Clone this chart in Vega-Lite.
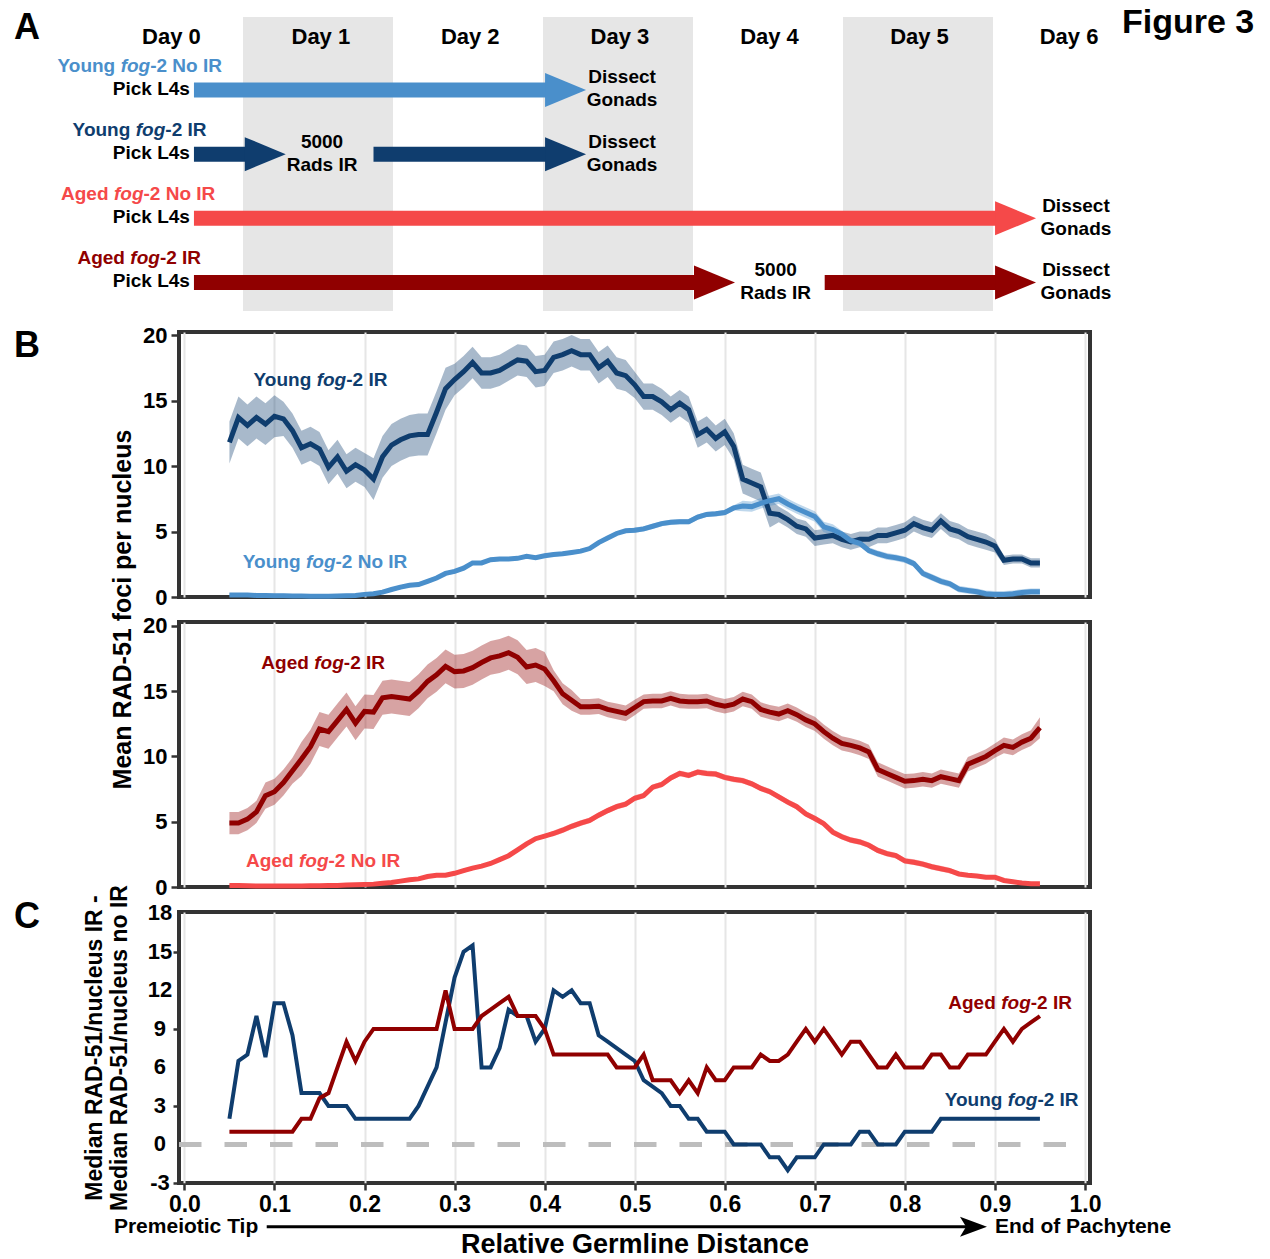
{
"$schema":"https://vega.github.io/schema/vega-lite/v6.json",
"padding":0,
"background":"white",
"spacing":25,
"bounds":"flush",
"config":{"font":"Liberation Sans","view":{"stroke":null},"text":{"fontWeight":"bold"},
"axis":{"labelFontWeight":"bold","titleFontWeight":"bold","labelColor":"#000","titleColor":"#000","tickColor":"#333333","tickWidth":2.5,"domain":false,"gridColor":"#e6e6e6","gridWidth":2,"labelOverlap":false,"labelFlush":false}},
"datasets":{
"aBands":[{"x":1,"x2":2,"y":-0.137,"y2":4.444},{"x":3,"x2":4,"y":-0.137,"y2":4.444},{"x":5,"x2":6,"y":-0.137,"y2":4.444}],
"aDays":[{"t":"Day 0","x":0.523,"y":0.179},{"t":"Day 1","x":1.519,"y":0.179},{"t":"Day 2","x":2.515,"y":0.179},{"t":"Day 3","x":3.513,"y":0.179},{"t":"Day 4","x":4.51,"y":0.179},{"t":"Day 5","x":5.51,"y":0.179},{"t":"Day 6","x":6.507,"y":0.179}],
"aBars":[{"c":"YN","y":1,"x":0.673,"x2":3.04},{"c":"YI","y":2,"x":0.673,"x2":1.03},{"c":"YI","y":2,"x":1.87,"x2":3.04},{"c":"AN","y":3,"x":0.673,"x2":6.04},{"c":"AI","y":4,"x":0.673,"x2":4.03},{"c":"AI","y":4,"x":4.878,"x2":6.04}],
"aHeads":[{"c":"YN","y":1,"x":3.287},{"c":"YI","y":2,"x":1.285},{"c":"YI","y":2,"x":3.287},{"c":"AN","y":3,"x":6.287},{"c":"AI","y":4,"x":4.28},{"c":"AI","y":4,"x":6.287}],
"aLabels":[{"c":"YN","y":1,"x":0.3813,"pre":"Young","suf":"-2 No IR"},{"c":"YI","y":2,"x":0.482,"pre":"Young","suf":"-2 IR"},{"c":"AN","y":3,"x":0.3367,"pre":"Aged","suf":"-2 No IR"},{"c":"AI","y":4,"x":0.446,"pre":"Aged","suf":"-2 IR"}],
"aPick":[{"x":0.646,"y":1},{"x":0.646,"y":2},{"x":0.646,"y":3},{"x":0.646,"y":4}],
"aNotes":[{"x":3.527,"y":1,"t":"Dissect\nGonads"},{"x":3.527,"y":2,"t":"Dissect\nGonads"},{"x":1.527,"y":2,"t":"5000\nRads IR"},{"x":6.553,"y":3,"t":"Dissect\nGonads"},{"x":4.551,"y":4,"t":"5000\nRads IR"},{"x":6.553,"y":4,"t":"Dissect\nGonads"}],
"bLab1":[{"c":"YI","x":0.1797,"y":16.56,"pre":"Young","suf":"-2 IR"},{"c":"YN","x":0.1678,"y":2.69,"pre":"Young","suf":"-2 No IR"}],
"bLab2":[{"c":"AI","x":0.177,"y":17.14,"pre":"Aged","suf":"-2 IR"},{"c":"AN","x":0.16,"y":2.01,"pre":"Aged","suf":"-2 No IR"}],
"cLab":[{"c":"AI","x":0.9398,"y":11.04,"pre":"Aged","suf":"-2 IR"},{"c":"YI","x":0.9472,"y":3.46,"pre":"Young","suf":"-2 IR"}],
"cTicks":[{"v":-3,"t":"-3"},{"v":0,"t":"0"},{"v":3,"t":"3"},{"v":6,"t":"6"},{"v":9,"t":"9"},{"v":12,"t":"12"},{"v":15,"t":"15"},{"v":18,"t":"18"}],
"b1":[
{"x":0.05,"c":"YI","m":11.8,"lo":10.2,"hi":13.4},{"x":0.06,"c":"YI","m":13.7,"lo":12.1,"hi":15.3},{"x":0.07,"c":"YI","m":13.1,"lo":11.5,"hi":14.7},{"x":0.08,"c":"YI","m":13.7,"lo":12.1,"hi":15.3},{"x":0.09,"c":"YI","m":13.2,"lo":11.6,"hi":14.8},{"x":0.10,"c":"YI","m":13.8,"lo":12.2,"hi":15.4},{"x":0.11,"c":"YI","m":13.6,"lo":12.3,"hi":14.9},{"x":0.12,"c":"YI","m":12.7,"lo":11.4,"hi":14.0},{"x":0.13,"c":"YI","m":11.4,"lo":10.1,"hi":12.7},{"x":0.14,"c":"YI","m":11.7,"lo":10.4,"hi":13.0},
{"x":0.15,"c":"YI","m":11.3,"lo":10.0,"hi":12.6},{"x":0.16,"c":"YI","m":9.9,"lo":8.6,"hi":11.2},{"x":0.17,"c":"YI","m":10.7,"lo":9.4,"hi":12.0},{"x":0.18,"c":"YI","m":9.6,"lo":8.3,"hi":10.9},{"x":0.19,"c":"YI","m":10.1,"lo":8.8,"hi":11.4},{"x":0.20,"c":"YI","m":9.7,"lo":8.4,"hi":11.0},{"x":0.21,"c":"YI","m":9.0,"lo":7.4,"hi":10.6},{"x":0.22,"c":"YI","m":10.7,"lo":9.1,"hi":12.3},{"x":0.23,"c":"YI","m":11.6,"lo":10.0,"hi":13.2},{"x":0.24,"c":"YI","m":12.0,"lo":10.4,"hi":13.6},
{"x":0.25,"c":"YI","m":12.3,"lo":10.7,"hi":13.9},{"x":0.26,"c":"YI","m":12.4,"lo":10.8,"hi":14.0},{"x":0.27,"c":"YI","m":12.4,"lo":10.8,"hi":14.0},{"x":0.28,"c":"YI","m":14.1,"lo":12.5,"hi":15.7},{"x":0.29,"c":"YI","m":15.9,"lo":14.3,"hi":17.5},{"x":0.30,"c":"YI","m":16.6,"lo":15.4,"hi":17.8},{"x":0.31,"c":"YI","m":17.2,"lo":16.0,"hi":18.4},{"x":0.32,"c":"YI","m":17.9,"lo":16.7,"hi":19.1},{"x":0.33,"c":"YI","m":17.1,"lo":15.9,"hi":18.3},{"x":0.34,"c":"YI","m":17.1,"lo":15.9,"hi":18.3},
{"x":0.35,"c":"YI","m":17.3,"lo":16.1,"hi":18.5},{"x":0.36,"c":"YI","m":17.7,"lo":16.5,"hi":18.9},{"x":0.37,"c":"YI","m":18.1,"lo":16.9,"hi":19.3},{"x":0.38,"c":"YI","m":18.0,"lo":16.8,"hi":19.2},{"x":0.39,"c":"YI","m":17.2,"lo":16.0,"hi":18.4},{"x":0.40,"c":"YI","m":17.3,"lo":16.1,"hi":18.5},{"x":0.41,"c":"YI","m":18.3,"lo":17.1,"hi":19.5},{"x":0.42,"c":"YI","m":18.5,"lo":17.3,"hi":19.7},{"x":0.43,"c":"YI","m":18.8,"lo":17.6,"hi":20.0},{"x":0.44,"c":"YI","m":18.5,"lo":17.3,"hi":19.7},
{"x":0.45,"c":"YI","m":18.5,"lo":17.3,"hi":19.7},{"x":0.46,"c":"YI","m":17.5,"lo":16.3,"hi":18.7},{"x":0.47,"c":"YI","m":18.0,"lo":16.8,"hi":19.2},{"x":0.48,"c":"YI","m":17.1,"lo":15.9,"hi":18.3},{"x":0.49,"c":"YI","m":16.9,"lo":15.7,"hi":18.1},{"x":0.50,"c":"YI","m":16.2,"lo":15.2,"hi":17.2},{"x":0.51,"c":"YI","m":15.3,"lo":14.3,"hi":16.3},{"x":0.52,"c":"YI","m":15.3,"lo":14.3,"hi":16.3},{"x":0.53,"c":"YI","m":14.9,"lo":13.9,"hi":15.9},{"x":0.54,"c":"YI","m":14.3,"lo":13.3,"hi":15.3},
{"x":0.55,"c":"YI","m":14.8,"lo":13.8,"hi":15.8},{"x":0.56,"c":"YI","m":14.3,"lo":13.3,"hi":15.3},{"x":0.57,"c":"YI","m":12.4,"lo":11.4,"hi":13.4},{"x":0.58,"c":"YI","m":12.8,"lo":11.8,"hi":13.8},{"x":0.59,"c":"YI","m":12.1,"lo":11.1,"hi":13.1},{"x":0.60,"c":"YI","m":12.6,"lo":11.6,"hi":13.6},{"x":0.61,"c":"YI","m":11.5,"lo":10.5,"hi":12.5},{"x":0.62,"c":"YI","m":9.0,"lo":7.9,"hi":10.1},{"x":0.63,"c":"YI","m":8.7,"lo":7.6,"hi":9.8},{"x":0.64,"c":"YI","m":8.4,"lo":7.3,"hi":9.5},
{"x":0.65,"c":"YI","m":6.4,"lo":5.3,"hi":7.5},{"x":0.66,"c":"YI","m":6.3,"lo":5.7,"hi":6.9},{"x":0.67,"c":"YI","m":5.9,"lo":5.3,"hi":6.5},{"x":0.68,"c":"YI","m":5.4,"lo":4.8,"hi":6.0},{"x":0.69,"c":"YI","m":5.2,"lo":4.6,"hi":5.8},{"x":0.70,"c":"YI","m":4.5,"lo":3.9,"hi":5.1},{"x":0.71,"c":"YI","m":4.6,"lo":4.0,"hi":5.2},{"x":0.72,"c":"YI","m":4.7,"lo":4.1,"hi":5.3},{"x":0.73,"c":"YI","m":4.4,"lo":3.8,"hi":5.0},{"x":0.74,"c":"YI","m":4.2,"lo":3.6,"hi":4.8},
{"x":0.75,"c":"YI","m":4.4,"lo":3.8,"hi":5.0},{"x":0.76,"c":"YI","m":4.4,"lo":3.8,"hi":5.0},{"x":0.77,"c":"YI","m":4.7,"lo":4.1,"hi":5.3},{"x":0.78,"c":"YI","m":4.7,"lo":4.1,"hi":5.3},{"x":0.79,"c":"YI","m":4.9,"lo":4.3,"hi":5.5},{"x":0.80,"c":"YI","m":5.1,"lo":4.5,"hi":5.7},{"x":0.81,"c":"YI","m":5.6,"lo":5.0,"hi":6.2},{"x":0.82,"c":"YI","m":5.3,"lo":4.7,"hi":5.9},{"x":0.83,"c":"YI","m":5.1,"lo":4.5,"hi":5.7},{"x":0.84,"c":"YI","m":5.8,"lo":5.2,"hi":6.4},
{"x":0.85,"c":"YI","m":5.2,"lo":4.6,"hi":5.8},{"x":0.86,"c":"YI","m":5.0,"lo":4.4,"hi":5.6},{"x":0.87,"c":"YI","m":4.6,"lo":4.0,"hi":5.2},{"x":0.88,"c":"YI","m":4.4,"lo":3.8,"hi":5.0},{"x":0.89,"c":"YI","m":4.2,"lo":3.6,"hi":4.8},{"x":0.90,"c":"YI","m":3.9,"lo":3.4,"hi":4.4},{"x":0.91,"c":"YI","m":2.8,"lo":2.45,"hi":3.15},{"x":0.92,"c":"YI","m":2.9,"lo":2.55,"hi":3.25},{"x":0.93,"c":"YI","m":2.9,"lo":2.55,"hi":3.25},{"x":0.94,"c":"YI","m":2.6,"lo":2.25,"hi":2.95},
{"x":0.95,"c":"YI","m":2.6,"lo":2.25,"hi":2.95},
{"x":0.05,"c":"YN","m":0.15,"lo":0.0,"hi":0.3},{"x":0.06,"c":"YN","m":0.15,"lo":0.0,"hi":0.3},{"x":0.07,"c":"YN","m":0.15,"lo":0.0,"hi":0.3},{"x":0.08,"c":"YN","m":0.12,"lo":0.0,"hi":0.27},{"x":0.09,"c":"YN","m":0.12,"lo":0.0,"hi":0.27},{"x":0.10,"c":"YN","m":0.1,"lo":0.0,"hi":0.25},{"x":0.11,"c":"YN","m":0.1,"lo":0.0,"hi":0.25},{"x":0.12,"c":"YN","m":0.08,"lo":0.0,"hi":0.23},{"x":0.13,"c":"YN","m":0.08,"lo":0.0,"hi":0.23},{"x":0.14,"c":"YN","m":0.06,"lo":0.0,"hi":0.21},
{"x":0.15,"c":"YN","m":0.05,"lo":0.0,"hi":0.2},{"x":0.16,"c":"YN","m":0.06,"lo":0.0,"hi":0.21},{"x":0.17,"c":"YN","m":0.08,"lo":0.0,"hi":0.23},{"x":0.18,"c":"YN","m":0.1,"lo":0.0,"hi":0.25},{"x":0.19,"c":"YN","m":0.12,"lo":0.0,"hi":0.27},{"x":0.20,"c":"YN","m":0.2,"lo":0.05,"hi":0.35},{"x":0.21,"c":"YN","m":0.25,"lo":0.1,"hi":0.4},{"x":0.22,"c":"YN","m":0.37,"lo":0.22,"hi":0.52},{"x":0.23,"c":"YN","m":0.57,"lo":0.42,"hi":0.72},{"x":0.24,"c":"YN","m":0.75,"lo":0.6,"hi":0.9},
{"x":0.25,"c":"YN","m":0.9,"lo":0.75,"hi":1.05},{"x":0.26,"c":"YN","m":0.95,"lo":0.8,"hi":1.1},{"x":0.27,"c":"YN","m":1.2,"lo":1.05,"hi":1.35},{"x":0.28,"c":"YN","m":1.45,"lo":1.3,"hi":1.6},{"x":0.29,"c":"YN","m":1.8,"lo":1.65,"hi":1.95},{"x":0.30,"c":"YN","m":1.95,"lo":1.8,"hi":2.1},{"x":0.31,"c":"YN","m":2.2,"lo":2.05,"hi":2.35},{"x":0.32,"c":"YN","m":2.6,"lo":2.45,"hi":2.75},{"x":0.33,"c":"YN","m":2.6,"lo":2.45,"hi":2.75},{"x":0.34,"c":"YN","m":2.85,"lo":2.7,"hi":3.0},
{"x":0.35,"c":"YN","m":2.9,"lo":2.75,"hi":3.05},{"x":0.36,"c":"YN","m":2.9,"lo":2.75,"hi":3.05},{"x":0.37,"c":"YN","m":2.95,"lo":2.8,"hi":3.1},{"x":0.38,"c":"YN","m":3.1,"lo":2.95,"hi":3.25},{"x":0.39,"c":"YN","m":3.0,"lo":2.85,"hi":3.15},{"x":0.40,"c":"YN","m":3.15,"lo":3.0,"hi":3.3},{"x":0.41,"c":"YN","m":3.25,"lo":3.1,"hi":3.4},{"x":0.42,"c":"YN","m":3.3,"lo":3.15,"hi":3.45},{"x":0.43,"c":"YN","m":3.4,"lo":3.25,"hi":3.55},{"x":0.44,"c":"YN","m":3.5,"lo":3.35,"hi":3.65},
{"x":0.45,"c":"YN","m":3.7,"lo":3.55,"hi":3.85},{"x":0.46,"c":"YN","m":4.15,"lo":4.0,"hi":4.3},{"x":0.47,"c":"YN","m":4.5,"lo":4.35,"hi":4.65},{"x":0.48,"c":"YN","m":4.85,"lo":4.7,"hi":5.0},{"x":0.49,"c":"YN","m":5.05,"lo":4.9,"hi":5.2},{"x":0.50,"c":"YN","m":5.1,"lo":4.9,"hi":5.3},{"x":0.51,"c":"YN","m":5.2,"lo":5.0,"hi":5.4},{"x":0.52,"c":"YN","m":5.4,"lo":5.2,"hi":5.6},{"x":0.53,"c":"YN","m":5.6,"lo":5.4,"hi":5.8},{"x":0.54,"c":"YN","m":5.7,"lo":5.5,"hi":5.9},
{"x":0.55,"c":"YN","m":5.75,"lo":5.55,"hi":5.95},{"x":0.56,"c":"YN","m":5.75,"lo":5.55,"hi":5.95},{"x":0.57,"c":"YN","m":6.1,"lo":5.9,"hi":6.3},{"x":0.58,"c":"YN","m":6.3,"lo":6.1,"hi":6.5},{"x":0.59,"c":"YN","m":6.35,"lo":6.15,"hi":6.55},{"x":0.60,"c":"YN","m":6.45,"lo":6.25,"hi":6.65},{"x":0.61,"c":"YN","m":6.8,"lo":6.6,"hi":7.0},{"x":0.62,"c":"YN","m":6.95,"lo":6.55,"hi":7.35},{"x":0.63,"c":"YN","m":6.9,"lo":6.5,"hi":7.3},{"x":0.64,"c":"YN","m":7.15,"lo":6.75,"hi":7.55},
{"x":0.65,"c":"YN","m":7.35,"lo":6.95,"hi":7.75},{"x":0.66,"c":"YN","m":7.5,"lo":7.1,"hi":7.9},{"x":0.67,"c":"YN","m":7.1,"lo":6.7,"hi":7.5},{"x":0.68,"c":"YN","m":6.75,"lo":6.35,"hi":7.15},{"x":0.69,"c":"YN","m":6.45,"lo":6.05,"hi":6.85},{"x":0.70,"c":"YN","m":6.15,"lo":5.75,"hi":6.55},{"x":0.71,"c":"YN","m":5.35,"lo":4.95,"hi":5.75},{"x":0.72,"c":"YN","m":5.15,"lo":4.75,"hi":5.55},{"x":0.73,"c":"YN","m":4.8,"lo":4.55,"hi":5.05},{"x":0.74,"c":"YN","m":4.3,"lo":4.05,"hi":4.55},
{"x":0.75,"c":"YN","m":4.1,"lo":3.85,"hi":4.35},{"x":0.76,"c":"YN","m":3.55,"lo":3.3,"hi":3.8},{"x":0.77,"c":"YN","m":3.3,"lo":3.05,"hi":3.55},{"x":0.78,"c":"YN","m":3.1,"lo":2.85,"hi":3.35},{"x":0.79,"c":"YN","m":3.0,"lo":2.75,"hi":3.25},{"x":0.80,"c":"YN","m":2.85,"lo":2.6,"hi":3.1},{"x":0.81,"c":"YN","m":2.55,"lo":2.3,"hi":2.8},{"x":0.82,"c":"YN","m":1.8,"lo":1.55,"hi":2.05},{"x":0.83,"c":"YN","m":1.5,"lo":1.25,"hi":1.75},{"x":0.84,"c":"YN","m":1.2,"lo":0.95,"hi":1.45},
{"x":0.85,"c":"YN","m":1.0,"lo":0.75,"hi":1.25},{"x":0.86,"c":"YN","m":0.6,"lo":0.35,"hi":0.85},{"x":0.87,"c":"YN","m":0.5,"lo":0.25,"hi":0.75},{"x":0.88,"c":"YN","m":0.4,"lo":0.15,"hi":0.65},{"x":0.89,"c":"YN","m":0.25,"lo":0.0,"hi":0.5},{"x":0.90,"c":"YN","m":0.2,"lo":0.0,"hi":0.45},{"x":0.91,"c":"YN","m":0.2,"lo":0.0,"hi":0.45},{"x":0.92,"c":"YN","m":0.25,"lo":0.0,"hi":0.5},{"x":0.93,"c":"YN","m":0.35,"lo":0.1,"hi":0.6},{"x":0.94,"c":"YN","m":0.4,"lo":0.15,"hi":0.65},
{"x":0.95,"c":"YN","m":0.4,"lo":0.15,"hi":0.65}
],
"b2":[
{"x":0.05,"c":"AI","m":4.9,"lo":4.05,"hi":5.75},{"x":0.06,"c":"AI","m":4.9,"lo":4.05,"hi":5.75},{"x":0.07,"c":"AI","m":5.2,"lo":4.35,"hi":6.05},{"x":0.08,"c":"AI","m":5.75,"lo":4.9,"hi":6.6},{"x":0.09,"c":"AI","m":7.0,"lo":6.0,"hi":8.0},{"x":0.10,"c":"AI","m":7.3,"lo":6.3,"hi":8.3},{"x":0.11,"c":"AI","m":8.0,"lo":7.0,"hi":9.0},{"x":0.12,"c":"AI","m":8.9,"lo":7.9,"hi":9.9},{"x":0.13,"c":"AI","m":9.8,"lo":8.5,"hi":11.1},{"x":0.14,"c":"AI","m":10.75,"lo":9.45,"hi":12.05},
{"x":0.15,"c":"AI","m":12.1,"lo":10.8,"hi":13.4},{"x":0.16,"c":"AI","m":11.9,"lo":10.6,"hi":13.2},{"x":0.17,"c":"AI","m":12.75,"lo":11.45,"hi":14.05},{"x":0.18,"c":"AI","m":13.6,"lo":12.3,"hi":14.9},{"x":0.19,"c":"AI","m":12.55,"lo":11.25,"hi":13.85},{"x":0.20,"c":"AI","m":13.45,"lo":12.15,"hi":14.75},{"x":0.21,"c":"AI","m":13.4,"lo":12.1,"hi":14.7},{"x":0.22,"c":"AI","m":14.5,"lo":13.2,"hi":15.8},{"x":0.23,"c":"AI","m":14.6,"lo":13.3,"hi":15.9},{"x":0.24,"c":"AI","m":14.5,"lo":13.2,"hi":15.8},
{"x":0.25,"c":"AI","m":14.4,"lo":13.1,"hi":15.7},{"x":0.26,"c":"AI","m":15.0,"lo":13.7,"hi":16.3},{"x":0.27,"c":"AI","m":15.75,"lo":14.45,"hi":17.05},{"x":0.28,"c":"AI","m":16.25,"lo":14.95,"hi":17.55},{"x":0.29,"c":"AI","m":16.9,"lo":15.6,"hi":18.2},{"x":0.30,"c":"AI","m":16.5,"lo":15.2,"hi":17.8},{"x":0.31,"c":"AI","m":16.55,"lo":15.25,"hi":17.85},{"x":0.32,"c":"AI","m":16.8,"lo":15.5,"hi":18.1},{"x":0.33,"c":"AI","m":17.2,"lo":15.9,"hi":18.5},{"x":0.34,"c":"AI","m":17.55,"lo":16.25,"hi":18.85},
{"x":0.35,"c":"AI","m":17.7,"lo":16.4,"hi":19.0},{"x":0.36,"c":"AI","m":17.95,"lo":16.65,"hi":19.25},{"x":0.37,"c":"AI","m":17.6,"lo":16.3,"hi":18.9},{"x":0.38,"c":"AI","m":16.85,"lo":15.55,"hi":18.15},{"x":0.39,"c":"AI","m":17.0,"lo":15.7,"hi":18.3},{"x":0.40,"c":"AI","m":16.7,"lo":15.4,"hi":18.0},{"x":0.41,"c":"AI","m":15.8,"lo":15.0,"hi":16.6},{"x":0.42,"c":"AI","m":14.8,"lo":14.0,"hi":15.6},{"x":0.43,"c":"AI","m":14.3,"lo":13.5,"hi":15.1},{"x":0.44,"c":"AI","m":13.8,"lo":13.2,"hi":14.4},
{"x":0.45,"c":"AI","m":13.8,"lo":13.2,"hi":14.4},{"x":0.46,"c":"AI","m":13.85,"lo":13.25,"hi":14.45},{"x":0.47,"c":"AI","m":13.6,"lo":13.0,"hi":14.2},{"x":0.48,"c":"AI","m":13.45,"lo":12.85,"hi":14.05},{"x":0.49,"c":"AI","m":13.3,"lo":12.7,"hi":13.9},{"x":0.50,"c":"AI","m":13.75,"lo":13.15,"hi":14.35},{"x":0.51,"c":"AI","m":14.2,"lo":13.65,"hi":14.75},{"x":0.52,"c":"AI","m":14.25,"lo":13.7,"hi":14.8},{"x":0.53,"c":"AI","m":14.25,"lo":13.7,"hi":14.8},{"x":0.54,"c":"AI","m":14.45,"lo":13.9,"hi":15.0},
{"x":0.55,"c":"AI","m":14.25,"lo":13.7,"hi":14.8},{"x":0.56,"c":"AI","m":14.2,"lo":13.65,"hi":14.75},{"x":0.57,"c":"AI","m":14.2,"lo":13.65,"hi":14.75},{"x":0.58,"c":"AI","m":14.25,"lo":13.7,"hi":14.8},{"x":0.59,"c":"AI","m":14.0,"lo":13.45,"hi":14.55},{"x":0.60,"c":"AI","m":13.85,"lo":13.3,"hi":14.4},{"x":0.61,"c":"AI","m":14.0,"lo":13.45,"hi":14.55},{"x":0.62,"c":"AI","m":14.4,"lo":13.85,"hi":14.95},{"x":0.63,"c":"AI","m":14.2,"lo":13.65,"hi":14.75},{"x":0.64,"c":"AI","m":13.6,"lo":13.05,"hi":14.15},
{"x":0.65,"c":"AI","m":13.4,"lo":12.85,"hi":13.95},{"x":0.66,"c":"AI","m":13.25,"lo":12.7,"hi":13.8},{"x":0.67,"c":"AI","m":13.5,"lo":12.95,"hi":14.05},{"x":0.68,"c":"AI","m":13.2,"lo":12.65,"hi":13.75},{"x":0.69,"c":"AI","m":12.8,"lo":12.25,"hi":13.35},{"x":0.70,"c":"AI","m":12.5,"lo":11.95,"hi":13.05},{"x":0.71,"c":"AI","m":11.9,"lo":11.35,"hi":12.45},{"x":0.72,"c":"AI","m":11.4,"lo":10.85,"hi":11.95},{"x":0.73,"c":"AI","m":11.0,"lo":10.45,"hi":11.55},{"x":0.74,"c":"AI","m":10.85,"lo":10.3,"hi":11.4},
{"x":0.75,"c":"AI","m":10.65,"lo":10.1,"hi":11.2},{"x":0.76,"c":"AI","m":10.35,"lo":9.8,"hi":10.9},{"x":0.77,"c":"AI","m":9.0,"lo":8.45,"hi":9.55},{"x":0.78,"c":"AI","m":8.7,"lo":8.15,"hi":9.25},{"x":0.79,"c":"AI","m":8.4,"lo":7.85,"hi":8.95},{"x":0.80,"c":"AI","m":8.1,"lo":7.55,"hi":8.65},{"x":0.81,"c":"AI","m":8.15,"lo":7.6,"hi":8.7},{"x":0.82,"c":"AI","m":8.25,"lo":7.7,"hi":8.8},{"x":0.83,"c":"AI","m":8.15,"lo":7.6,"hi":8.7},{"x":0.84,"c":"AI","m":8.45,"lo":7.9,"hi":9.0},
{"x":0.85,"c":"AI","m":8.3,"lo":7.75,"hi":8.85},{"x":0.86,"c":"AI","m":8.15,"lo":7.6,"hi":8.7},{"x":0.87,"c":"AI","m":9.4,"lo":8.85,"hi":9.95},{"x":0.88,"c":"AI","m":9.7,"lo":9.15,"hi":10.25},{"x":0.89,"c":"AI","m":10.0,"lo":9.45,"hi":10.55},{"x":0.90,"c":"AI","m":10.45,"lo":9.9,"hi":11.0},{"x":0.91,"c":"AI","m":10.85,"lo":10.25,"hi":11.45},{"x":0.92,"c":"AI","m":10.7,"lo":10.1,"hi":11.3},{"x":0.93,"c":"AI","m":11.1,"lo":10.5,"hi":11.7},{"x":0.94,"c":"AI","m":11.4,"lo":10.8,"hi":12.0},
{"x":0.95,"c":"AI","m":12.2,"lo":11.4,"hi":13.0},
{"x":0.05,"c":"AN","m":0.12,"lo":0.02,"hi":0.22},{"x":0.06,"c":"AN","m":0.12,"lo":0.02,"hi":0.22},{"x":0.07,"c":"AN","m":0.1,"lo":0.0,"hi":0.2},{"x":0.08,"c":"AN","m":0.08,"lo":0.0,"hi":0.18},{"x":0.09,"c":"AN","m":0.08,"lo":0.0,"hi":0.18},{"x":0.10,"c":"AN","m":0.08,"lo":0.0,"hi":0.18},{"x":0.11,"c":"AN","m":0.08,"lo":0.0,"hi":0.18},{"x":0.12,"c":"AN","m":0.08,"lo":0.0,"hi":0.18},{"x":0.13,"c":"AN","m":0.08,"lo":0.0,"hi":0.18},{"x":0.14,"c":"AN","m":0.1,"lo":0.0,"hi":0.2},
{"x":0.15,"c":"AN","m":0.1,"lo":0.0,"hi":0.2},{"x":0.16,"c":"AN","m":0.12,"lo":0.02,"hi":0.22},{"x":0.17,"c":"AN","m":0.12,"lo":0.02,"hi":0.22},{"x":0.18,"c":"AN","m":0.15,"lo":0.05,"hi":0.25},{"x":0.19,"c":"AN","m":0.18,"lo":0.08,"hi":0.28},{"x":0.20,"c":"AN","m":0.2,"lo":0.1,"hi":0.3},{"x":0.21,"c":"AN","m":0.22,"lo":0.12,"hi":0.32},{"x":0.22,"c":"AN","m":0.28,"lo":0.18,"hi":0.38},{"x":0.23,"c":"AN","m":0.35,"lo":0.25,"hi":0.45},{"x":0.24,"c":"AN","m":0.45,"lo":0.35,"hi":0.55},
{"x":0.25,"c":"AN","m":0.55,"lo":0.45,"hi":0.65},{"x":0.26,"c":"AN","m":0.62,"lo":0.52,"hi":0.72},{"x":0.27,"c":"AN","m":0.8,"lo":0.7,"hi":0.9},{"x":0.28,"c":"AN","m":0.9,"lo":0.8,"hi":1.0},{"x":0.29,"c":"AN","m":0.9,"lo":0.8,"hi":1.0},{"x":0.30,"c":"AN","m":1.05,"lo":0.95,"hi":1.15},{"x":0.31,"c":"AN","m":1.25,"lo":1.15,"hi":1.35},{"x":0.32,"c":"AN","m":1.45,"lo":1.35,"hi":1.55},{"x":0.33,"c":"AN","m":1.6,"lo":1.5,"hi":1.7},{"x":0.34,"c":"AN","m":1.8,"lo":1.7,"hi":1.9},
{"x":0.35,"c":"AN","m":2.1,"lo":2.0,"hi":2.2},{"x":0.36,"c":"AN","m":2.4,"lo":2.3,"hi":2.5},{"x":0.37,"c":"AN","m":2.85,"lo":2.75,"hi":2.95},{"x":0.38,"c":"AN","m":3.3,"lo":3.2,"hi":3.4},{"x":0.39,"c":"AN","m":3.7,"lo":3.6,"hi":3.8},{"x":0.40,"c":"AN","m":3.9,"lo":3.8,"hi":4.0},{"x":0.41,"c":"AN","m":4.1,"lo":3.88,"hi":4.32},{"x":0.42,"c":"AN","m":4.35,"lo":4.13,"hi":4.57},{"x":0.43,"c":"AN","m":4.65,"lo":4.43,"hi":4.87},{"x":0.44,"c":"AN","m":4.9,"lo":4.68,"hi":5.12},
{"x":0.45,"c":"AN","m":5.1,"lo":4.88,"hi":5.32},{"x":0.46,"c":"AN","m":5.5,"lo":5.28,"hi":5.72},{"x":0.47,"c":"AN","m":5.85,"lo":5.63,"hi":6.07},{"x":0.48,"c":"AN","m":6.15,"lo":5.93,"hi":6.37},{"x":0.49,"c":"AN","m":6.35,"lo":6.13,"hi":6.57},{"x":0.50,"c":"AN","m":6.8,"lo":6.58,"hi":7.02},{"x":0.51,"c":"AN","m":7.0,"lo":6.78,"hi":7.22},{"x":0.52,"c":"AN","m":7.65,"lo":7.43,"hi":7.87},{"x":0.53,"c":"AN","m":7.85,"lo":7.63,"hi":8.07},{"x":0.54,"c":"AN","m":8.35,"lo":8.13,"hi":8.57},
{"x":0.55,"c":"AN","m":8.7,"lo":8.48,"hi":8.92},{"x":0.56,"c":"AN","m":8.55,"lo":8.33,"hi":8.77},{"x":0.57,"c":"AN","m":8.8,"lo":8.58,"hi":9.02},{"x":0.58,"c":"AN","m":8.7,"lo":8.48,"hi":8.92},{"x":0.59,"c":"AN","m":8.65,"lo":8.43,"hi":8.87},{"x":0.60,"c":"AN","m":8.4,"lo":8.18,"hi":8.62},{"x":0.61,"c":"AN","m":8.25,"lo":8.03,"hi":8.47},{"x":0.62,"c":"AN","m":8.15,"lo":7.93,"hi":8.37},{"x":0.63,"c":"AN","m":7.9,"lo":7.68,"hi":8.12},{"x":0.64,"c":"AN","m":7.55,"lo":7.33,"hi":7.77},
{"x":0.65,"c":"AN","m":7.3,"lo":7.08,"hi":7.52},{"x":0.66,"c":"AN","m":6.9,"lo":6.68,"hi":7.12},{"x":0.67,"c":"AN","m":6.5,"lo":6.28,"hi":6.72},{"x":0.68,"c":"AN","m":6.15,"lo":5.93,"hi":6.37},{"x":0.69,"c":"AN","m":5.6,"lo":5.38,"hi":5.82},{"x":0.70,"c":"AN","m":5.25,"lo":5.03,"hi":5.47},{"x":0.71,"c":"AN","m":4.85,"lo":4.63,"hi":5.07},{"x":0.72,"c":"AN","m":4.2,"lo":3.98,"hi":4.42},{"x":0.73,"c":"AN","m":3.85,"lo":3.63,"hi":4.07},{"x":0.74,"c":"AN","m":3.6,"lo":3.38,"hi":3.82},
{"x":0.75,"c":"AN","m":3.45,"lo":3.23,"hi":3.67},{"x":0.76,"c":"AN","m":3.2,"lo":2.98,"hi":3.42},{"x":0.77,"c":"AN","m":2.8,"lo":2.58,"hi":3.02},{"x":0.78,"c":"AN","m":2.55,"lo":2.33,"hi":2.77},{"x":0.79,"c":"AN","m":2.4,"lo":2.18,"hi":2.62},{"x":0.80,"c":"AN","m":2.0,"lo":1.78,"hi":2.22},{"x":0.81,"c":"AN","m":1.9,"lo":1.68,"hi":2.12},{"x":0.82,"c":"AN","m":1.75,"lo":1.53,"hi":1.97},{"x":0.83,"c":"AN","m":1.55,"lo":1.33,"hi":1.77},{"x":0.84,"c":"AN","m":1.4,"lo":1.18,"hi":1.62},
{"x":0.85,"c":"AN","m":1.25,"lo":1.03,"hi":1.47},{"x":0.86,"c":"AN","m":1.0,"lo":0.88,"hi":1.12},{"x":0.87,"c":"AN","m":0.9,"lo":0.78,"hi":1.02},{"x":0.88,"c":"AN","m":0.85,"lo":0.73,"hi":0.97},{"x":0.89,"c":"AN","m":0.75,"lo":0.63,"hi":0.87},{"x":0.90,"c":"AN","m":0.75,"lo":0.63,"hi":0.87},{"x":0.91,"c":"AN","m":0.5,"lo":0.38,"hi":0.62},{"x":0.92,"c":"AN","m":0.4,"lo":0.28,"hi":0.52},{"x":0.93,"c":"AN","m":0.3,"lo":0.18,"hi":0.42},{"x":0.94,"c":"AN","m":0.25,"lo":0.13,"hi":0.37},
{"x":0.95,"c":"AN","m":0.25,"lo":0.13,"hi":0.37}
],
"cd":[
{"x":0.05,"c":"YI","v":2},{"x":0.06,"c":"YI","v":6.5},{"x":0.07,"c":"YI","v":7},{"x":0.08,"c":"YI","v":10},{"x":0.09,"c":"YI","v":6.8},{"x":0.10,"c":"YI","v":11},{"x":0.11,"c":"YI","v":11},{"x":0.12,"c":"YI","v":8.5},{"x":0.13,"c":"YI","v":4},{"x":0.14,"c":"YI","v":4},
{"x":0.15,"c":"YI","v":4},{"x":0.16,"c":"YI","v":3},{"x":0.17,"c":"YI","v":3},{"x":0.18,"c":"YI","v":3},{"x":0.19,"c":"YI","v":2},{"x":0.20,"c":"YI","v":2},{"x":0.21,"c":"YI","v":2},{"x":0.22,"c":"YI","v":2},{"x":0.23,"c":"YI","v":2},{"x":0.24,"c":"YI","v":2},
{"x":0.25,"c":"YI","v":2},{"x":0.26,"c":"YI","v":3},{"x":0.27,"c":"YI","v":4.5},{"x":0.28,"c":"YI","v":6},{"x":0.29,"c":"YI","v":9.5},{"x":0.30,"c":"YI","v":13},{"x":0.31,"c":"YI","v":15},{"x":0.32,"c":"YI","v":15.5},{"x":0.33,"c":"YI","v":6},{"x":0.34,"c":"YI","v":6},
{"x":0.35,"c":"YI","v":7.5},{"x":0.36,"c":"YI","v":10.5},{"x":0.37,"c":"YI","v":10},{"x":0.38,"c":"YI","v":10},{"x":0.39,"c":"YI","v":8},{"x":0.40,"c":"YI","v":9},{"x":0.41,"c":"YI","v":12},{"x":0.42,"c":"YI","v":11.5},{"x":0.43,"c":"YI","v":12},{"x":0.44,"c":"YI","v":11},
{"x":0.45,"c":"YI","v":11},{"x":0.46,"c":"YI","v":8.5},{"x":0.47,"c":"YI","v":8},{"x":0.48,"c":"YI","v":7.5},{"x":0.49,"c":"YI","v":7},{"x":0.50,"c":"YI","v":6.5},{"x":0.51,"c":"YI","v":5},{"x":0.52,"c":"YI","v":4.5},{"x":0.53,"c":"YI","v":4},{"x":0.54,"c":"YI","v":3},
{"x":0.55,"c":"YI","v":3},{"x":0.56,"c":"YI","v":2},{"x":0.57,"c":"YI","v":2},{"x":0.58,"c":"YI","v":1},{"x":0.59,"c":"YI","v":1},{"x":0.60,"c":"YI","v":1},{"x":0.61,"c":"YI","v":0},{"x":0.62,"c":"YI","v":0},{"x":0.63,"c":"YI","v":0},{"x":0.64,"c":"YI","v":0},
{"x":0.65,"c":"YI","v":-1},{"x":0.66,"c":"YI","v":-1},{"x":0.67,"c":"YI","v":-2},{"x":0.68,"c":"YI","v":-1},{"x":0.69,"c":"YI","v":-1},{"x":0.70,"c":"YI","v":-1},{"x":0.71,"c":"YI","v":0},{"x":0.72,"c":"YI","v":0},{"x":0.73,"c":"YI","v":0},{"x":0.74,"c":"YI","v":0},
{"x":0.75,"c":"YI","v":1},{"x":0.76,"c":"YI","v":1},{"x":0.77,"c":"YI","v":0},{"x":0.78,"c":"YI","v":0},{"x":0.79,"c":"YI","v":0},{"x":0.80,"c":"YI","v":1},{"x":0.81,"c":"YI","v":1},{"x":0.82,"c":"YI","v":1},{"x":0.83,"c":"YI","v":1},{"x":0.84,"c":"YI","v":2},
{"x":0.85,"c":"YI","v":2},{"x":0.86,"c":"YI","v":2},{"x":0.87,"c":"YI","v":2},{"x":0.88,"c":"YI","v":2},{"x":0.89,"c":"YI","v":2},{"x":0.90,"c":"YI","v":2},{"x":0.91,"c":"YI","v":2},{"x":0.92,"c":"YI","v":2},{"x":0.93,"c":"YI","v":2},{"x":0.94,"c":"YI","v":2},
{"x":0.95,"c":"YI","v":2},
{"x":0.05,"c":"AI","v":1},{"x":0.06,"c":"AI","v":1},{"x":0.07,"c":"AI","v":1},{"x":0.08,"c":"AI","v":1},{"x":0.09,"c":"AI","v":1},{"x":0.10,"c":"AI","v":1},{"x":0.11,"c":"AI","v":1},{"x":0.12,"c":"AI","v":1},{"x":0.13,"c":"AI","v":2},{"x":0.14,"c":"AI","v":2},
{"x":0.15,"c":"AI","v":3.6},{"x":0.16,"c":"AI","v":4},{"x":0.17,"c":"AI","v":6},{"x":0.18,"c":"AI","v":8},{"x":0.19,"c":"AI","v":6.5},{"x":0.20,"c":"AI","v":8},{"x":0.21,"c":"AI","v":9},{"x":0.22,"c":"AI","v":9},{"x":0.23,"c":"AI","v":9},{"x":0.24,"c":"AI","v":9},
{"x":0.25,"c":"AI","v":9},{"x":0.26,"c":"AI","v":9},{"x":0.27,"c":"AI","v":9},{"x":0.28,"c":"AI","v":9},{"x":0.29,"c":"AI","v":12},{"x":0.30,"c":"AI","v":9},{"x":0.31,"c":"AI","v":9},{"x":0.32,"c":"AI","v":9},{"x":0.33,"c":"AI","v":10},{"x":0.34,"c":"AI","v":10.5},
{"x":0.35,"c":"AI","v":11},{"x":0.36,"c":"AI","v":11.5},{"x":0.37,"c":"AI","v":10},{"x":0.38,"c":"AI","v":10},{"x":0.39,"c":"AI","v":10},{"x":0.40,"c":"AI","v":9},{"x":0.41,"c":"AI","v":7},{"x":0.42,"c":"AI","v":7},{"x":0.43,"c":"AI","v":7},{"x":0.44,"c":"AI","v":7},
{"x":0.45,"c":"AI","v":7},{"x":0.46,"c":"AI","v":7},{"x":0.47,"c":"AI","v":7},{"x":0.48,"c":"AI","v":6},{"x":0.49,"c":"AI","v":6},{"x":0.50,"c":"AI","v":6},{"x":0.51,"c":"AI","v":7},{"x":0.52,"c":"AI","v":5},{"x":0.53,"c":"AI","v":5},{"x":0.54,"c":"AI","v":5},
{"x":0.55,"c":"AI","v":4},{"x":0.56,"c":"AI","v":5},{"x":0.57,"c":"AI","v":4},{"x":0.58,"c":"AI","v":6},{"x":0.59,"c":"AI","v":5},{"x":0.60,"c":"AI","v":5},{"x":0.61,"c":"AI","v":6},{"x":0.62,"c":"AI","v":6},{"x":0.63,"c":"AI","v":6},{"x":0.64,"c":"AI","v":7},
{"x":0.65,"c":"AI","v":6.5},{"x":0.66,"c":"AI","v":6.5},{"x":0.67,"c":"AI","v":7},{"x":0.68,"c":"AI","v":8},{"x":0.69,"c":"AI","v":9},{"x":0.70,"c":"AI","v":8},{"x":0.71,"c":"AI","v":9},{"x":0.72,"c":"AI","v":8},{"x":0.73,"c":"AI","v":7},{"x":0.74,"c":"AI","v":8},
{"x":0.75,"c":"AI","v":8},{"x":0.76,"c":"AI","v":7},{"x":0.77,"c":"AI","v":6},{"x":0.78,"c":"AI","v":6},{"x":0.79,"c":"AI","v":7},{"x":0.80,"c":"AI","v":6},{"x":0.81,"c":"AI","v":6},{"x":0.82,"c":"AI","v":6},{"x":0.83,"c":"AI","v":7},{"x":0.84,"c":"AI","v":7},
{"x":0.85,"c":"AI","v":6},{"x":0.86,"c":"AI","v":6},{"x":0.87,"c":"AI","v":7},{"x":0.88,"c":"AI","v":7},{"x":0.89,"c":"AI","v":7},{"x":0.90,"c":"AI","v":8},{"x":0.91,"c":"AI","v":9},{"x":0.92,"c":"AI","v":8},{"x":0.93,"c":"AI","v":9},{"x":0.94,"c":"AI","v":9.5},
{"x":0.95,"c":"AI","v":10}
]
},
"vconcat":[
{
"width":911,"height":307,
"encoding":{
"x":{"field":"x","type":"quantitative","scale":{"domain":[0.5733,6.6467],"nice":false,"zero":false},"axis":null},
"y":{"field":"y","type":"quantitative","scale":{"domain":[-0.402,4.382],"reverse":true,"nice":false,"zero":false},"axis":null}
},
"layer":[
{"data":{"values":[{"x":-0.62,"x2":7.8467,"y":-0.402,"y2":4.382}]},"mark":{"type":"rect","fill":"white"},"encoding":{"x2":{"field":"x2"},"y2":{"field":"y2"}}},
{"data":{"name":"aBands"},"mark":{"type":"rect","fill":"#e6e6e6","opacity":1},"encoding":{"x2":{"field":"x2"},"y2":{"field":"y2"}}},
{"data":{"name":"aBars"},"mark":{"type":"rule","strokeWidth":15},"encoding":{"x2":{"field":"x2"},"color":{"field":"c","type":"nominal","scale":{"domain":["YN","YI","AN","AI"],"range":["#4a8fcb","#0f3d6e","#f54949","#900000"]},"legend":null}}},
{"data":{"name":"aHeads"},"mark":{"type":"point","shape":"M-2,-0.83L0,0L-2,0.83Z","size":1681,"filled":true,"opacity":1,"strokeWidth":0},"encoding":{"color":{"field":"c","type":"nominal","legend":null}}},
{"data":{"name":"aLabels"},"mark":{"type":"text","fontSize":19,"align":"right","baseline":"middle","dx":-35,"dy":-24},"encoding":{"text":{"field":"pre"},"color":{"field":"c","type":"nominal","legend":null}}},
{"data":{"name":"aLabels"},"mark":{"type":"text","text":"fog","fontSize":19,"fontStyle":"italic","align":"right","baseline":"middle","dy":-24},"encoding":{"color":{"field":"c","type":"nominal","legend":null}}},
{"data":{"name":"aLabels"},"mark":{"type":"text","fontSize":19,"align":"left","baseline":"middle","dy":-24},"encoding":{"text":{"field":"suf"},"color":{"field":"c","type":"nominal","legend":null}}},
{"data":{"name":"aPick"},"mark":{"type":"text","text":"Pick L4s","fontSize":19,"align":"right","baseline":"middle","dy":-1,"color":"#000"}},
{"data":{"name":"aNotes"},"mark":{"type":"text","fontSize":19,"align":"center","baseline":"middle","lineBreak":"\n","lineHeight":23,"dy":-12.5,"color":"#000"},"encoding":{"text":{"field":"t"}}},
{"data":{"name":"aDays"},"mark":{"type":"text","fontSize":22,"align":"center","baseline":"middle","color":"#000"},"encoding":{"text":{"field":"t"}}},
{"data":{"values":[{"x":-0.5267,"y":0.028,"t":"A"}]},"mark":{"type":"text","fontSize":36,"align":"left","baseline":"middle","color":"#000"},"encoding":{"text":{"field":"t"}}},
{"data":{"values":[{"x":6.86,"y":-0.051,"t":"Figure 3"}]},"mark":{"type":"text","fontSize":34,"align":"left","baseline":"middle","color":"#000"},"encoding":{"text":{"field":"t"}}}
]
},
{
"width":911,"height":265,
"view":{"stroke":"#333333","strokeWidth":4},
"layer":[
{"data":{"name":"b1"},"mark":{"type":"area","opacity":0.36},
"encoding":{
"x":{"field":"x","type":"quantitative","scale":{"domain":[-0.006,1.0056],"nice":false,"zero":false},"axis":{"values":[0,0.1,0.2,0.3,0.4,0.5,0.6,0.7,0.8,0.9,1],"labels":false,"ticks":false,"title":null,"grid":true}},
"y":{"field":"lo","type":"quantitative","scale":{"domain":[0,20.23],"nice":false,"zero":false},"axis":{"values":[0,5,10,15,20],"title":"Mean RAD-51 foci per nucleus","titleFontSize":25,"titleX":-56.5,"titleY":277,"titleAngle":270,"titleBaseline":"middle","titleAlign":"center","labelFontSize":22,"tickSize":8,"labelPadding":4,"grid":false}},
"y2":{"field":"hi"},
"color":{"field":"c","type":"nominal","scale":{"domain":["YI","YN"],"range":["#0f3d6e","#4a8fcb"]},"legend":null}}},
{"data":{"name":"b1"},"mark":{"type":"line","strokeWidth":5},"encoding":{"x":{"field":"x","type":"quantitative"},"y":{"field":"m","type":"quantitative"},"color":{"field":"c","type":"nominal","legend":null}}},
{"data":{"name":"bLab1"},"mark":{"type":"text","fontSize":19,"align":"right","baseline":"middle","dx":-35},"encoding":{"x":{"field":"x","type":"quantitative"},"y":{"field":"y","type":"quantitative"},"text":{"field":"pre"},"color":{"field":"c","type":"nominal","legend":null}}},
{"data":{"name":"bLab1"},"mark":{"type":"text","text":"fog","fontSize":19,"fontStyle":"italic","align":"right","baseline":"middle"},"encoding":{"x":{"field":"x","type":"quantitative"},"y":{"field":"y","type":"quantitative"},"color":{"field":"c","type":"nominal","legend":null}}},
{"data":{"name":"bLab1"},"mark":{"type":"text","fontSize":19,"align":"left","baseline":"middle"},"encoding":{"x":{"field":"x","type":"quantitative"},"y":{"field":"y","type":"quantitative"},"text":{"field":"suf"},"color":{"field":"c","type":"nominal","legend":null}}},
{"data":{"values":[{"x":-0.1892,"y":19.19,"t":"B"}]},"mark":{"type":"text","fontSize":36,"align":"left","baseline":"middle","color":"#000"},"encoding":{"x":{"field":"x","type":"quantitative"},"y":{"field":"y","type":"quantitative"},"text":{"field":"t"}}}
]
},
{
"width":911,"height":265,
"view":{"stroke":"#333333","strokeWidth":4},
"layer":[
{"data":{"name":"b2"},"mark":{"type":"area","opacity":0.36},
"encoding":{
"x":{"field":"x","type":"quantitative","scale":{"domain":[-0.006,1.0056],"nice":false,"zero":false},"axis":{"values":[0,0.1,0.2,0.3,0.4,0.5,0.6,0.7,0.8,0.9,1],"labels":false,"ticks":false,"title":null,"grid":true}},
"y":{"field":"lo","type":"quantitative","scale":{"domain":[0,20.3],"nice":false,"zero":false},"axis":{"values":[0,5,10,15,20],"title":null,"labelFontSize":22,"tickSize":8,"labelPadding":4,"grid":false}},
"y2":{"field":"hi"},
"color":{"field":"c","type":"nominal","scale":{"domain":["AI","AN"],"range":["#900000","#f54949"]},"legend":null}}},
{"data":{"name":"b2"},"mark":{"type":"line","strokeWidth":5},"encoding":{"x":{"field":"x","type":"quantitative"},"y":{"field":"m","type":"quantitative"},"color":{"field":"c","type":"nominal","legend":null}}},
{"data":{"name":"bLab2"},"mark":{"type":"text","fontSize":19,"align":"right","baseline":"middle","dx":-35},"encoding":{"x":{"field":"x","type":"quantitative"},"y":{"field":"y","type":"quantitative"},"text":{"field":"pre"},"color":{"field":"c","type":"nominal","legend":null}}},
{"data":{"name":"bLab2"},"mark":{"type":"text","text":"fog","fontSize":19,"fontStyle":"italic","align":"right","baseline":"middle"},"encoding":{"x":{"field":"x","type":"quantitative"},"y":{"field":"y","type":"quantitative"},"color":{"field":"c","type":"nominal","legend":null}}},
{"data":{"name":"bLab2"},"mark":{"type":"text","fontSize":19,"align":"left","baseline":"middle"},"encoding":{"x":{"field":"x","type":"quantitative"},"y":{"field":"y","type":"quantitative"},"text":{"field":"suf"},"color":{"field":"c","type":"nominal","legend":null}}}
]
},
{
"width":911,"height":271,
"view":{"stroke":"#333333","strokeWidth":4},
"layer":[
{"data":{"values":[{"x":-0.006,"x2":1.0,"y":0}]},"mark":{"type":"rule","color":"#bdbdbd","strokeWidth":5,"strokeDash":[22.5,23]},
"encoding":{
"x":{"field":"x","type":"quantitative","scale":{"domain":[-0.006,1.0056],"nice":false,"zero":false},"axis":{"values":[0,0.1,0.2,0.3,0.4,0.5,0.6,0.7,0.8,0.9,1],"format":".1f","labelFontSize":23,"tickSize":7,"labelPadding":3,"grid":true,"title":"Relative Germline Distance","titleFontSize":27,"titleY":61,"titleBaseline":"middle"}},
"x2":{"field":"x2"},
"y":{"field":"y","type":"quantitative","scale":{"domain":[-3,18.1],"nice":false,"zero":false},"axis":{"values":[-3,0,3,6,9,12,15,18],"labels":false,"title":["Median RAD-51/nucleus IR -","Median RAD-51/nucleus no IR"],"titleFontSize":23,"titleLineHeight":25,"titleX":-85,"titleY":135.5,"titleAngle":270,"titleBaseline":"middle","titleAlign":"center","tickSize":6,"grid":false}}}},
{"data":{"name":"cTicks"},"mark":{"type":"text","fontSize":22,"align":"center","baseline":"middle","color":"#000"},"encoding":{"x":{"datum":-0.0271,"type":"quantitative"},"y":{"field":"v","type":"quantitative"},"text":{"field":"t"}}},
{"data":{"name":"cd"},"mark":{"type":"line","strokeWidth":4},"encoding":{"x":{"field":"x","type":"quantitative"},"y":{"field":"v","type":"quantitative"},"color":{"field":"c","type":"nominal","scale":{"domain":["YI","AI"],"range":["#154677","#8f0b0b"]},"legend":null}}},
{"data":{"name":"cLab"},"mark":{"type":"text","fontSize":19,"align":"right","baseline":"middle","dx":-35},"encoding":{"x":{"field":"x","type":"quantitative"},"y":{"field":"y","type":"quantitative"},"text":{"field":"pre"},"color":{"field":"c","type":"nominal","legend":null}}},
{"data":{"name":"cLab"},"mark":{"type":"text","text":"fog","fontSize":19,"fontStyle":"italic","align":"right","baseline":"middle"},"encoding":{"x":{"field":"x","type":"quantitative"},"y":{"field":"y","type":"quantitative"},"color":{"field":"c","type":"nominal","legend":null}}},
{"data":{"name":"cLab"},"mark":{"type":"text","fontSize":19,"align":"left","baseline":"middle"},"encoding":{"x":{"field":"x","type":"quantitative"},"y":{"field":"y","type":"quantitative"},"text":{"field":"suf"},"color":{"field":"c","type":"nominal","legend":null}}},
{"data":{"values":[{"x":-0.1892,"y":17.7,"t":"C"}]},"mark":{"type":"text","fontSize":36,"align":"left","baseline":"middle","color":"#000"},"encoding":{"x":{"field":"x","type":"quantitative"},"y":{"field":"y","type":"quantitative"},"text":{"field":"t"}}},
{"data":{"values":[{"x":0.082,"y":-6.42,"t":"Premeiotic Tip"}]},"mark":{"type":"text","fontSize":21,"align":"right","baseline":"middle","color":"#000"},"encoding":{"x":{"field":"x","type":"quantitative"},"y":{"field":"y","type":"quantitative"},"text":{"field":"t"}}},
{"data":{"values":[{"x":0.9,"y":-6.42,"t":"End of Pachytene"}]},"mark":{"type":"text","fontSize":21,"align":"left","baseline":"middle","color":"#000"},"encoding":{"x":{"field":"x","type":"quantitative"},"y":{"field":"y","type":"quantitative"},"text":{"field":"t"}}},
{"data":{"values":[{"x":0.0914,"x2":0.875,"y":-6.4}]},"mark":{"type":"rule","color":"#000","strokeWidth":3},"encoding":{"x":{"field":"x","type":"quantitative"},"x2":{"field":"x2"},"y":{"field":"y","type":"quantitative"}}},
{"data":{"values":[{"x":0.8912,"y":-6.4}]},"mark":{"type":"point","shape":"M-2,-0.74L0,0L-2,0.74L-1.55,0Z","size":729,"filled":true,"opacity":1,"strokeWidth":0,"color":"#000"},"encoding":{"x":{"field":"x","type":"quantitative"},"y":{"field":"y","type":"quantitative"}}}
]
}
]
}
